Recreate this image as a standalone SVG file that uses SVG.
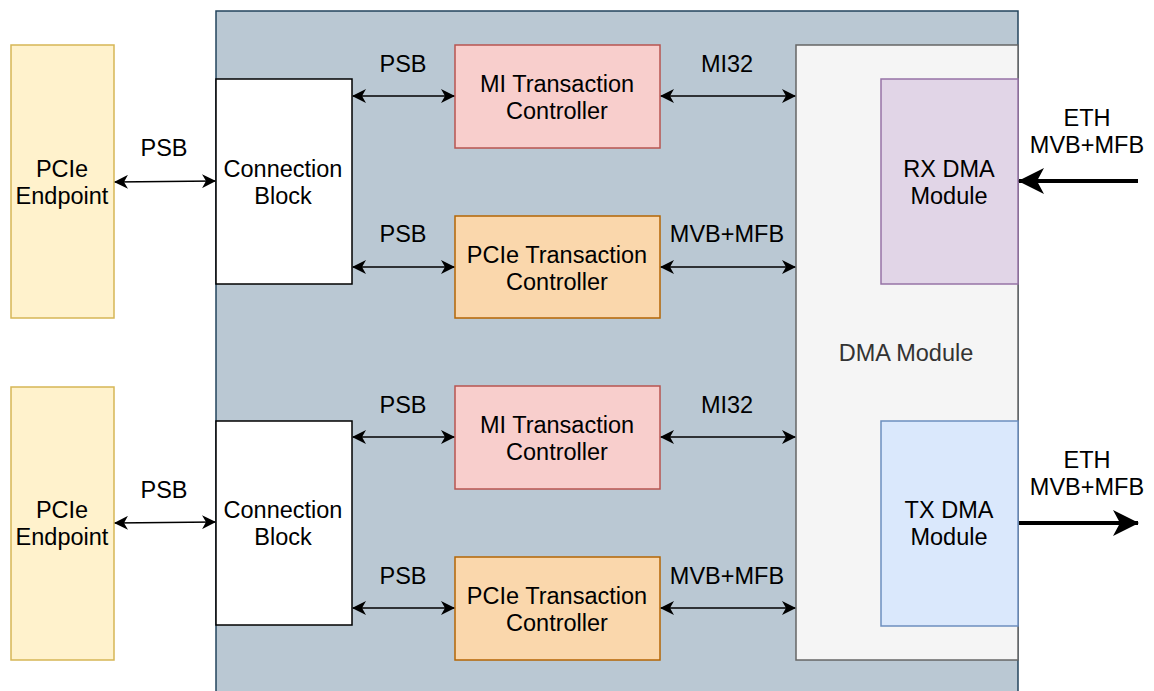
<svg xmlns="http://www.w3.org/2000/svg" width="1154" height="691" viewBox="0 0 1154 691">
  <defs>
    <style>
      text { font-family: "Liberation Sans", Arial, sans-serif; font-size: 23.5px; fill: #000; text-anchor: middle; }
      .box { stroke-width: 1.5; }
      .endpoint { fill: #fff2cc; stroke: #d6b656; }
      .conn { fill: #ffffff; stroke: #000000; }
      .mi { fill: #f8cecc; stroke: #b85450; }
      .pcie { fill: #fad7ac; stroke: #b46504; }
      .dma { fill: #f5f5f5; stroke: #666666; }
      .rx { fill: #e1d5e7; stroke: #9673a6; }
      .tx { fill: #dae8fc; stroke: #6c8ebf; }
      .link { fill: none; stroke: #000; stroke-width: 1.5; marker-start: url(#ah); marker-end: url(#ah); }
      .bus { fill: none; stroke: #000; stroke-width: 4; marker-end: url(#ahBig); }
    </style>
    <marker id="ah" viewBox="0 0 14 14" refX="13" refY="7" markerWidth="14" markerHeight="14" markerUnits="userSpaceOnUse" orient="auto-start-reverse">
      <path d="M0,0 L14,7 L0,14 L4,7 Z" fill="#000"/>
    </marker>
    <marker id="ahBig" viewBox="0 0 26 26" refX="25" refY="13" markerWidth="26" markerHeight="26" markerUnits="userSpaceOnUse" orient="auto">
      <path d="M0,0 L26,13 L0,26 L7,13 Z" fill="#000"/>
    </marker>
  </defs>

  <!-- FPGA-side container -->
  <g id="container">
    <rect x="216" y="11" width="802" height="690" fill="#bac8d3" stroke="#23445d" stroke-width="1.5"/>
  </g>

  <g id="endpoint-top">
    <rect class="box endpoint" x="11" y="45" width="103" height="273"/>
    <text x="62" y="177">PCIe</text>
    <text x="62" y="204">Endpoint</text>
  </g>
  <g id="endpoint-bottom">
    <rect class="box endpoint" x="11" y="387" width="103" height="273"/>
    <text x="62" y="518">PCIe</text>
    <text x="62" y="545">Endpoint</text>
  </g>

  <g id="connblock-top">
    <rect class="box conn" x="216" y="79" width="136" height="205"/>
    <text x="283" y="177">Connection</text>
    <text x="283" y="204">Block</text>
  </g>
  <g id="connblock-bottom">
    <rect class="box conn" x="216" y="421" width="136" height="204"/>
    <text x="283" y="518">Connection</text>
    <text x="283" y="545">Block</text>
  </g>

  <g id="mi-ctrl-top">
    <rect class="box mi" x="455" y="45" width="205" height="103"/>
    <text x="557" y="92">MI Transaction</text>
    <text x="557" y="119">Controller</text>
  </g>
  <g id="pcie-ctrl-top">
    <rect class="box pcie" x="455" y="216" width="205" height="102"/>
    <text x="557" y="263">PCIe Transaction</text>
    <text x="557" y="290">Controller</text>
  </g>
  <g id="mi-ctrl-bottom">
    <rect class="box mi" x="455" y="386" width="205" height="103"/>
    <text x="557" y="433">MI Transaction</text>
    <text x="557" y="460">Controller</text>
  </g>
  <g id="pcie-ctrl-bottom">
    <rect class="box pcie" x="455" y="557" width="205" height="103"/>
    <text x="557" y="604">PCIe Transaction</text>
    <text x="557" y="631">Controller</text>
  </g>

  <g id="dma-module">
    <rect class="box dma" x="796" y="45" width="222" height="615"/>
    <text x="906" y="361" style="fill:#333333">DMA Module</text>
  </g>
  <g id="rx-dma">
    <rect class="box rx" x="881" y="79" width="137" height="205"/>
    <text x="949" y="177">RX DMA</text>
    <text x="949" y="204">Module</text>
  </g>
  <g id="tx-dma">
    <rect class="box tx" x="881" y="421" width="137" height="205"/>
    <text x="949" y="518">TX DMA</text>
    <text x="949" y="545">Module</text>
  </g>

  <g id="connectors">
    <path class="link" d="M115,182 L215,181"/>
    <path class="link" d="M353,96 L454,96"/>
    <path class="link" d="M353,267 L454,267"/>
    <path class="link" d="M661,96 L795,96"/>
    <path class="link" d="M661,267 L795,267"/>

    <path class="link" d="M115,523 L215,522"/>
    <path class="link" d="M353,437 L454,437"/>
    <path class="link" d="M353,608 L454,608"/>
    <path class="link" d="M661,437 L795,437"/>
    <path class="link" d="M661,608 L795,608"/>

    <path class="bus" d="M1138,181 L1019,181"/>
    <path class="bus" d="M1019,523 L1138,523"/>
  </g>

  <g id="labels">
    <text x="164" y="156">PSB</text>
    <text x="403" y="72">PSB</text>
    <text x="727" y="72">MI32</text>
    <text x="403" y="242">PSB</text>
    <text x="727" y="242">MVB+MFB</text>
    <text x="164" y="498">PSB</text>
    <text x="403" y="413">PSB</text>
    <text x="727" y="413">MI32</text>
    <text x="403" y="584">PSB</text>
    <text x="727" y="584">MVB+MFB</text>
    <text x="1087" y="126">ETH</text>
    <text x="1087" y="153">MVB+MFB</text>
    <text x="1087" y="468">ETH</text>
    <text x="1087" y="495">MVB+MFB</text>
  </g>
</svg>
